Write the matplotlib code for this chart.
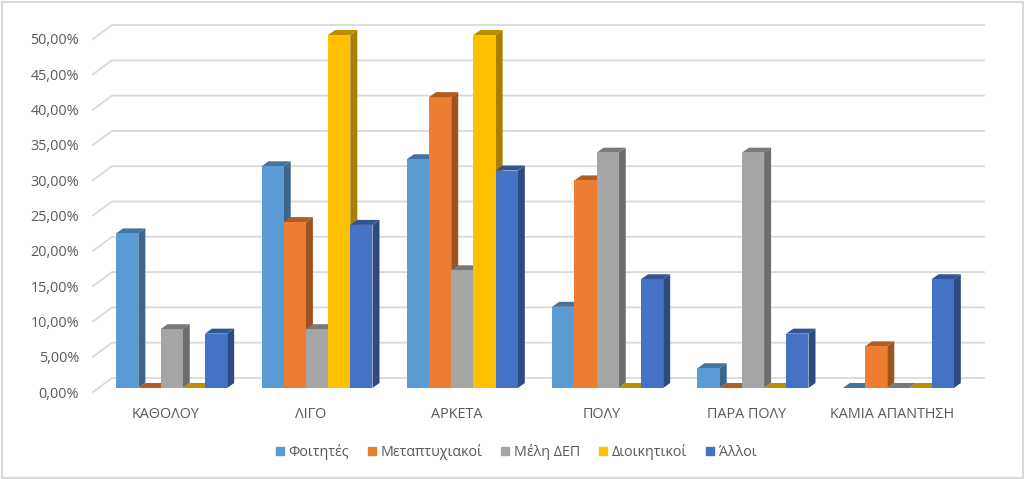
import matplotlib
matplotlib.use('Agg')
import matplotlib.pyplot as plt
from matplotlib.patches import Patch, Rectangle
from matplotlib.colors import to_rgb

categories = ['ΚΑΘΟΛΟΥ', 'ΛΙΓΟ', 'ΑΡΚΕΤΑ', 'ΠΟΛΥ', 'ΠΑΡΑ ΠΟΛΥ', 'ΚΑΜΙΑ ΑΠΑΝΤΗΣΗ']
series_names = ['Φοιτητές', 'Μεταπτυχιακοί', 'Μέλη ΔΕΠ', 'Διοικητικοί', 'Άλλοι']
foitites = [21.9, 31.4, 32.4, 11.5, 2.8, 0]
metaptyxiakoi = [0, 23.5, 41.2, 29.4, 0, 5.9]
meli_dep = [8.33, 8.33, 16.67, 33.33, 33.33, 0]
dioikitikoi = [0, 50, 50, 0, 0, 0]
alloi = [7.7, 23.1, 30.8, 15.4, 7.7, 15.4]
y_ticks = [0, 5, 10, 15, 20, 25, 30, 35, 40, 45, 50]

all_series = [foitites, metaptyxiakoi, meli_dep, dioikitikoi, alloi]
colors = ['#5B9BD5', '#ED7D31', '#A5A5A5', '#FFC000', '#4472C4']

W, H = 1024, 479
plt.rcParams['font.family'] = ['Open Sans', 'DejaVu Sans']
text_color = '#595959'
grid_color = '#D9D9D9'

fig = plt.figure(figsize=(W / 100, H / 100), dpi=100)
# front plane of the floor: x 93..965, y 392 (0%) .. 39 (50%)
ax = fig.add_axes([93 / W, 1 - 392 / H, 872 / W, 353 / H])
ax.set_xlim(-0.5, 5.5)
ax.set_ylim(0, 50)
ax.patch.set_alpha(0)
for s in ax.spines.values():
    s.set_visible(False)

# pixel sizes in data units
px_x = 6 / 872
px_y = 50 / 353

# back wall grid
for v in y_ticks:
    ax.plot([-0.5, -0.5 + 19 * px_x, 5.5 + 19 * px_x],
            [v, v + 14 * px_y, v + 14 * px_y],
            color=grid_color, lw=1.3, clip_on=False, zorder=1, solid_joinstyle='miter')

bar_w = 22.2 * px_x
depth_x = 7 * px_x
depth_y = 5 * px_y
off_x = 6 * px_x
off_y = 4 * px_y


def shade(c, f):
    r, g, b = to_rgb(c)
    return (r * f, g * f, b * f)


z = 2
for i, vals in enumerate(all_series):
    for k, v in enumerate(vals):
        x0 = k + off_x + (i - 2.5) * bar_w
        x1 = x0 + bar_w
        y0 = off_y
        y1 = off_y + v
        # side face
        ax.fill([x1, x1 + depth_x, x1 + depth_x, x1],
                [y0, y0 + depth_y, y1 + depth_y, y1],
                color=shade(colors[i], 0.66), lw=0, clip_on=False, zorder=z)
        # top face
        ax.fill([x0, x0 + depth_x, x1 + depth_x, x1],
                [y1, y1 + depth_y, y1 + depth_y, y1],
                color=shade(colors[i], 0.74), lw=0, clip_on=False, zorder=z)
        ax.bar(x0, v, width=bar_w, bottom=y0, align='edge', color=colors[i],
               lw=0, clip_on=False, zorder=z + 0.5)
    z += 1

ax.set_xticks(range(len(categories)))
ax.set_xticklabels(categories, fontsize=10.4, color=text_color)
ax.set_yticks(y_ticks)
ax.set_yticklabels([f'{v:.2f}%'.replace('.', ',') for v in y_ticks], fontsize=10.4, color=text_color)
ax.tick_params(axis='both', length=0)
ax.tick_params(axis='x', pad=11)
ax.tick_params(axis='y', pad=10)

handles = [Patch(color=c, label=n) for c, n in zip(colors, series_names)]
fig.legend(handles=handles, ncol=5, frameon=False, loc='center',
           bbox_to_anchor=(516 / W, 1 - 452 / H), fontsize=10.3,
           labelcolor=text_color, handlelength=0.56, handleheight=0.56,
           handletextpad=0.35, columnspacing=1.3)

# chart border
fig.add_artist(Rectangle((1.5 / W, 1 - 477.5 / H), 1021 / W, 476 / H, transform=fig.transFigure,
                         fill=False, ec=grid_color, lw=1.5))

fig.savefig('out.png', dpi=100)
